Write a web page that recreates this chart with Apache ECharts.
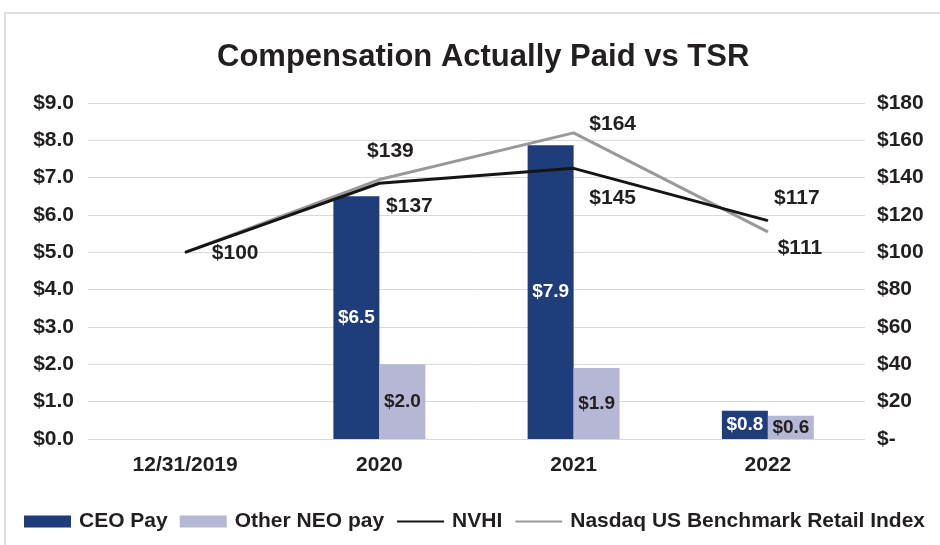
<!DOCTYPE html>
<html>
<head>
<meta charset="utf-8">
<script src="https://cdn.jsdelivr.net/npm/echarts@6/dist/echarts.min.js"></script>
<style>html,body{margin:0;padding:0;background:#fff;}#c{width:940px;height:545px;}</style>
</head>
<body>
<div id="c"></div>
<script>
const categories = ['12/31/2019', '2020', '2021', '2022'];
const ceoPay = [null, 6.5, 7.87, 0.76];
const neoPay = [null, 2.0, 1.9, 0.62];
const nvhi = [100, 137, 145, 117];
const nasdaq = [100, 139, 164, 111];
const leftTicks = ['$0.0','$1.0','$2.0','$3.0','$4.0','$5.0','$6.0','$7.0','$8.0','$9.0'];
const rightTicks = ['$-','$20','$40','$60','$80','$100','$120','$140','$160','$180'];

const FONT = '"Liberation Sans", Arial, sans-serif';
const nvhiOffsets = [[50, 1], [30, 23], [39, 30], [29, -22]];
const nasdaqOffsets = [null, [11, -28], [39, -9], [32, 16]];

const chart = echarts.init(document.getElementById('c'), null, {renderer: 'canvas'});
const TXT = '#231f20';
const lineLbl = {fontFamily: FONT, fontWeight: 'bold', fontSize: 21, color: TXT};
const barLbl = {fontFamily: FONT, fontWeight: 'bold', fontSize: 19};

function lineData(vals, offs) {
  return vals.map((v, i) => ({
    value: v,
    label: offs[i] ? {show: true, position: 'inside', offset: offs[i], align: 'center', verticalAlign: 'middle'} : {show: false}
  }));
}
const fmt1 = (p) => '$' + (Math.round(p.value * 10) / 10).toFixed(1);

chart.setOption({
  animation: false,
  textStyle: {fontFamily: FONT},
  title: {
    text: 'Compensation Actually Paid vs TSR',
    left: 212, top: 37,
    textStyle: {fontFamily: FONT, fontWeight: 'bold', fontSize: 31, color: TXT}
  },
  graphic: [{
    type: 'rect', silent: true,
    shape: {x: 5, y: 13, width: 1000, height: 600},
    style: {fill: 'none', stroke: '#dedede', lineWidth: 2}
  }],
  legend: {
    left: 19, top: 506,
    itemWidth: 47, itemHeight: 12, itemGap: 12,
    textStyle: {fontFamily: FONT, fontWeight: 'bold', fontSize: 21, color: TXT, padding: [0, 0, 0, 3]},
    data: [
      {name: 'CEO Pay', icon: 'rect'},
      {name: 'Other NEO pay', icon: 'rect'},
      {name: 'NVHI', itemStyle: {opacity: 0}},
      {name: 'Nasdaq US Benchmark Retail Index', itemStyle: {opacity: 0}}
    ]
  },
  grid: {left: 88, right: 75, top: 103, bottom: 106},
  xAxis: {
    type: 'category', data: categories,
    axisLine: {show: false}, axisTick: {show: false},
    axisLabel: {fontFamily: FONT, fontWeight: 'bold', fontSize: 21, color: TXT, margin: 16}
  },
  yAxis: [{
    type: 'value', min: 0, max: 9, interval: 1, position: 'left',
    axisLine: {show: false}, axisTick: {show: false},
    splitLine: {lineStyle: {color: '#d9d9d9', width: 1}},
    axisLabel: {fontFamily: FONT, fontWeight: 'bold', fontSize: 21, color: TXT, margin: 14,
      formatter: (v) => leftTicks[Math.round(v)]}
  }, {
    type: 'value', min: 0, max: 180, interval: 20, position: 'right',
    axisLine: {show: false}, axisTick: {show: false}, splitLine: {show: false},
    axisLabel: {fontFamily: FONT, fontWeight: 'bold', fontSize: 21, color: TXT, margin: 12,
      formatter: (v) => rightTicks[Math.round(v / 20)]}
  }],
  series: [{
    name: 'CEO Pay', type: 'bar', yAxisIndex: 0, data: ceoPay,
    barWidth: 46, barGap: '0%',
    itemStyle: {color: '#1f3d7b'},
    label: Object.assign({}, barLbl, {show: true, position: 'inside', color: '#ffffff', formatter: fmt1})
  }, {
    name: 'Other NEO pay', type: 'bar', yAxisIndex: 0, data: neoPay,
    barWidth: 46, barGap: '0%',
    itemStyle: {color: '#b6b7d4'},
    label: Object.assign({}, barLbl, {show: true, position: 'inside', color: TXT, formatter: fmt1})
  }, {
    name: 'NVHI', type: 'line', yAxisIndex: 1, data: lineData(nvhi, nvhiOffsets),
    symbol: 'circle', symbolSize: 1, showSymbol: true,
    lineStyle: {color: '#151515', width: 3}, itemStyle: {color: '#151515'},
    label: Object.assign({}, lineLbl, {formatter: (p) => '$' + p.value}),
    z: 5
  }, {
    name: 'Nasdaq US Benchmark Retail Index', type: 'line', yAxisIndex: 1, data: lineData(nasdaq, nasdaqOffsets),
    symbol: 'circle', symbolSize: 1, showSymbol: true,
    lineStyle: {color: '#999999', width: 3}, itemStyle: {color: '#999999'},
    label: Object.assign({}, lineLbl, {formatter: (p) => '$' + p.value}),
    z: 4
  }]
});
</script>
</body>
</html>
